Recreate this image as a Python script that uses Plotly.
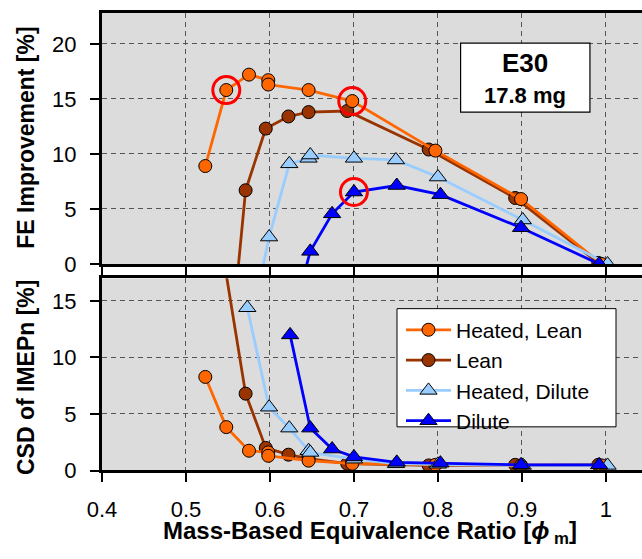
import plotly.graph_objects as go

# ---------------- data ----------------
series_names = ["Heated, Lean", "Lean", "Heated, Dilute", "Dilute"]

phi_heated_lean = [0.523, 0.548, 0.575, 0.598, 0.598, 0.646, 0.698, 0.797, 0.899, 0.995]
fe_heated_lean = [8.9, 15.8, 17.2, 16.7, 16.3, 15.8, 14.8, 10.3, 5.9, 0.0]
csd_heated_lean = [8.28, 3.84, 1.75, 1.6, 1.3, 0.87, 0.6, 0.5, 0.45, 0.45]

phi_lean = [0.545, 0.571, 0.595, 0.622, 0.646, 0.692, 0.789, 0.892, 0.991]
fe_lean = [-14.0, 6.7, 12.3, 13.4, 13.8, 13.9, 10.4, 6.0, 0.1]
csd_lean = [18.7, 6.8, 2.0, 1.4, 1.05, 0.6, 0.45, 0.5, 0.5]

phi_heated_dilute = [0.573, 0.599, 0.623, 0.646, 0.648, 0.700, 0.750, 0.800, 0.901, 1.002]
fe_heated_dilute = [-7.0, 2.45, 9.1, 9.6, 9.9, 9.6, 9.45, 7.9, 4.0, 0.0]
csd_heated_dilute = [14.4, 5.6, 3.75, 1.75, 1.6, 1.0, 0.6, 0.55, 0.45, 0.45]

phi_dilute = [0.624, 0.648, 0.674, 0.700, 0.751, 0.803, 0.899, 0.992]
fe_dilute = [-5.7, 1.15, 4.56, 6.54, 7.13, 6.3, 3.3, 0.0]
csd_dilute = [12.0, 3.75, 1.9, 1.2, 0.72, 0.65, 0.5, 0.5]

highlight_phi = [0.548, 0.698, 0.700]
highlight_fe = [15.8, 14.8, 6.54]

x_ticks = [0.4, 0.5, 0.6, 0.7, 0.8, 0.9, 1.0]
x_tick_labels = ["0.4", "0.5", "0.6", "0.7", "0.8", "0.9", "1"]
fe_ticks = [0, 5, 10, 15, 20]
csd_ticks = [0, 5, 10, 15]

box_title = "E30"
box_subtitle = "17.8 mg"

# ---------------- styling ----------------
FONT = "Arial, Liberation Sans, sans-serif"
colors = {"Heated, Lean": "#FF6600", "Lean": "#993300",
          "Heated, Dilute": "#99CCFF", "Dilute": "#0000FF"}
symbols = {"Heated, Lean": "circle", "Lean": "circle",
           "Heated, Dilute": "triangle-up", "Dilute": "triangle-up"}
sizes = {"circle": 13, "triangle-up": 15}
ranks = {"Heated, Lean": 1, "Lean": 2, "Heated, Dilute": 3, "Dilute": 4}

data = {
    "Heated, Lean": (phi_heated_lean, fe_heated_lean, csd_heated_lean),
    "Lean": (phi_lean, fe_lean, csd_lean),
    "Heated, Dilute": (phi_heated_dilute, fe_heated_dilute, csd_heated_dilute),
    "Dilute": (phi_dilute, fe_dilute, csd_dilute),
}
draw_order = ["Lean", "Heated, Lean", "Heated, Dilute", "Dilute"]

fig = go.Figure()
for name in draw_order:
    phi, fe, csd = data[name]
    style = dict(
        mode="lines+markers",
        line=dict(color=colors[name], width=2.8),
        marker=dict(symbol=symbols[name], size=sizes[symbols[name]],
                    color=colors[name], line=dict(color="black", width=1)),
    )
    fig.add_trace(go.Scatter(x=phi, y=fe, xaxis="x", yaxis="y", name=name,
                             showlegend=False, **style))
    fig.add_trace(go.Scatter(x=phi, y=csd, xaxis="x2", yaxis="y2", name=name,
                             legendrank=ranks[name], showlegend=True, **style))

fig.add_trace(go.Scatter(
    x=highlight_phi, y=highlight_fe, xaxis="x", yaxis="y", mode="markers",
    marker=dict(symbol="circle-open", size=27, color="#FF0000",
                line=dict(color="#FF0000", width=3)),
    showlegend=False, hoverinfo="skip"))

W, H = 642, 559
L = 102
PW = W - L


def py(p):  # reference pixel from top -> paper y
    return 1 - p / H


def px(p):  # reference pixel from left -> paper x
    return (p - L) / PW


grid = dict(showgrid=True, gridcolor="#555555", gridwidth=1, griddash="5px,4px")
axis_common = dict(showline=True, linecolor="black", linewidth=3,
                   ticks="outside", ticklen=9, tickwidth=2, tickcolor="black",
                   zeroline=False,
                   tickfont=dict(family=FONT, size=22, color="black"))

fig.update_layout(
    width=W, height=H,
    margin=dict(l=L, r=0, t=0, b=0),
    paper_bgcolor="white",
    plot_bgcolor="#DCDCDC",
    font=dict(family=FONT, color="black"),
    xaxis=dict(domain=[0, 1], anchor="y", range=[0.4, 1.043],
               tickvals=x_ticks, ticktext=x_tick_labels, showticklabels=False,
               mirror=True, **grid, **axis_common),
    xaxis2=dict(domain=[0, 1], anchor="y2", range=[0.4, 1.043], matches="x",
                tickvals=x_ticks, ticktext=x_tick_labels, mirror=True,
                ticklabelstandoff=8, **grid, **axis_common),
    yaxis=dict(domain=[py(270.3), py(13.3)], anchor="x", range=[0, 22.8],
               tickvals=fe_ticks, ticklabelstandoff=9, **grid, **axis_common),
    yaxis2=dict(domain=[py(481.7), py(285)], anchor="x2", range=[0, 17],
                tickvals=csd_ticks, ticklabelstandoff=9, **grid, **axis_common),
    legend=dict(x=px(401), y=py(317), xanchor="left", yanchor="top",
                bgcolor="rgba(0,0,0,0)", borderwidth=0,
                itemwidth=45,
                font=dict(family=FONT, size=21, color="black"),
                traceorder="normal"),
    showlegend=True,
)

# legend frame
fig.add_shape(type="rect", xref="paper", yref="paper",
              x0=px(397), x1=px(616), y0=py(437), y1=py(316),
              line=dict(color="black", width=1), fillcolor="white", layer="above")

# E30 label box
fig.add_shape(type="rect", xref="x", yref="y", x0=0.827, x1=0.981, y0=13.8, y1=20.07,
              line=dict(color="black", width=1.2), fillcolor="white", layer="above")
fig.add_annotation(x=0.904, y=18.3, xref="x", yref="y", text=f"<b>{box_title}</b>",
                   showarrow=False, xanchor="center", yanchor="middle",
                   font=dict(family=FONT, size=26, color="black"))
fig.add_annotation(x=0.904, y=15.3, xref="x", yref="y", text=f"<b>{box_subtitle}</b>",
                   showarrow=False, xanchor="center", yanchor="middle",
                   font=dict(family=FONT, size=22, color="black"))

fig.add_annotation(x=px(26), y=py(141), xref="paper", yref="paper",
                   text="<b>FE Improvement [%]</b>", textangle=-90, showarrow=False,
                   xanchor="center", yanchor="middle",
                   font=dict(family=FONT, size=23, color="black"))
fig.add_annotation(x=px(26), y=py(386), xref="paper", yref="paper",
                   text="<b>CSD of IMEPn [%]</b>", textangle=-90, showarrow=False,
                   xanchor="center", yanchor="middle",
                   font=dict(family=FONT, size=23, color="black"))
fig.add_annotation(x=px(370), y=py(545), xref="paper", yref="paper",
                   text="<b>Mass-Based Equivalence Ratio [<i>\u03d5</i><sub> m</sub>]</b>",
                   showarrow=False, xanchor="center", yanchor="middle",
                   font=dict(family=FONT, size=24, color="black"))

# remove the default 8px page margin so the figure sits at the window origin
fig.write_html("out.html", config={"displayModeBar": False},
               post_script="document.body.style.margin='0px';")
